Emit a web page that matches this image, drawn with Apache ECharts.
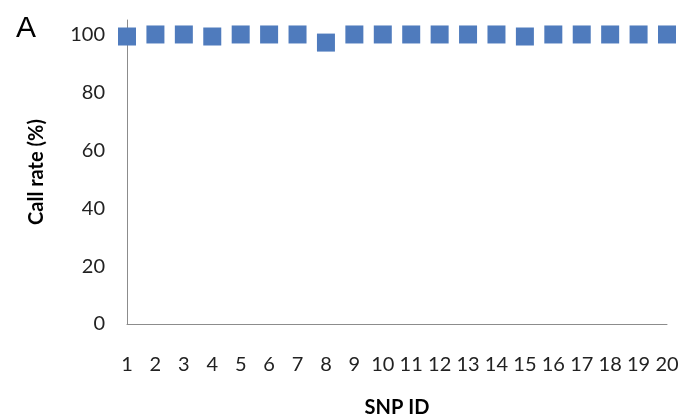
<!DOCTYPE html>
<html><head><meta charset="utf-8">
<script src="https://cdn.jsdelivr.net/npm/echarts@6/dist/echarts.min.js"></script>
<style>html,body{margin:0;padding:0;background:#fff}#c{width:681px;height:419px}</style>
</head><body><div id="c"></div>
<script>
const snpIds = ['1','2','3','4','5','6','7','8','9','10','11','12','13','14','15','16','17','18','19','20'];
const callRate = [99.3,100,100,99.3,100,100,100,97.2,100,100,100,100,100,100,99.3,100,100,100,100,100];
const yTicks = [0,20,40,60,80,100];

const chart = echarts.init(document.getElementById('c'));
const font = 'Lato, "Open Sans", sans-serif';
chart.setOption({
  animation: false,
  backgroundColor: '#fff',
  title: {text: 'A', left: 11, top: 9, textStyle: {fontFamily: 'Liberation Sans, Arial, sans-serif', fontWeight: 'normal', fontSize: 30, color: '#000'}},
  grid: {left: 127, right: 14, top: 20, bottom: 95, outerBoundsMode: 'none', containLabel: false},
  xAxis: {
    type: 'category', data: snpIds, boundaryGap: false,
    name: 'SNP ID', nameLocation: 'middle', nameGap: 74,
    nameTextStyle: {fontFamily: font, fontWeight: 'bold', fontSize: 20, color: '#000'},
    axisLine: {lineStyle: {color: '#8c8c8c', width: 1}},
    axisTick: {show: false},
    axisLabel: {fontFamily: font, fontSize: 20, color: '#222', margin: 31, interval: 0}
  },
  yAxis: {
    type: 'value', min: 0, max: 105, interval: 20,
    name: 'Call rate (%)', nameLocation: 'middle', nameGap: 80, nameRotate: 90,
    nameTextStyle: {fontFamily: font, fontWeight: 'bold', fontSize: 20, color: '#000'},
    axisLine: {show: true, lineStyle: {color: '#8c8c8c', width: 1}},
    axisTick: {show: false},
    splitLine: {show: false},
    axisLabel: {fontFamily: font, fontSize: 20, color: '#222', margin: 22, showMaxLabel: false,
      formatter: v => yTicks.includes(v) ? String(v) : ''}
  },
  series: [{
    type: 'line', data: callRate,
    lineStyle: {width: 0, opacity: 0},
    symbol: 'rect', symbolSize: 18, showSymbol: true,
    itemStyle: {color: '#4f7bbd'}
  }]
});
</script>
</body></html>
